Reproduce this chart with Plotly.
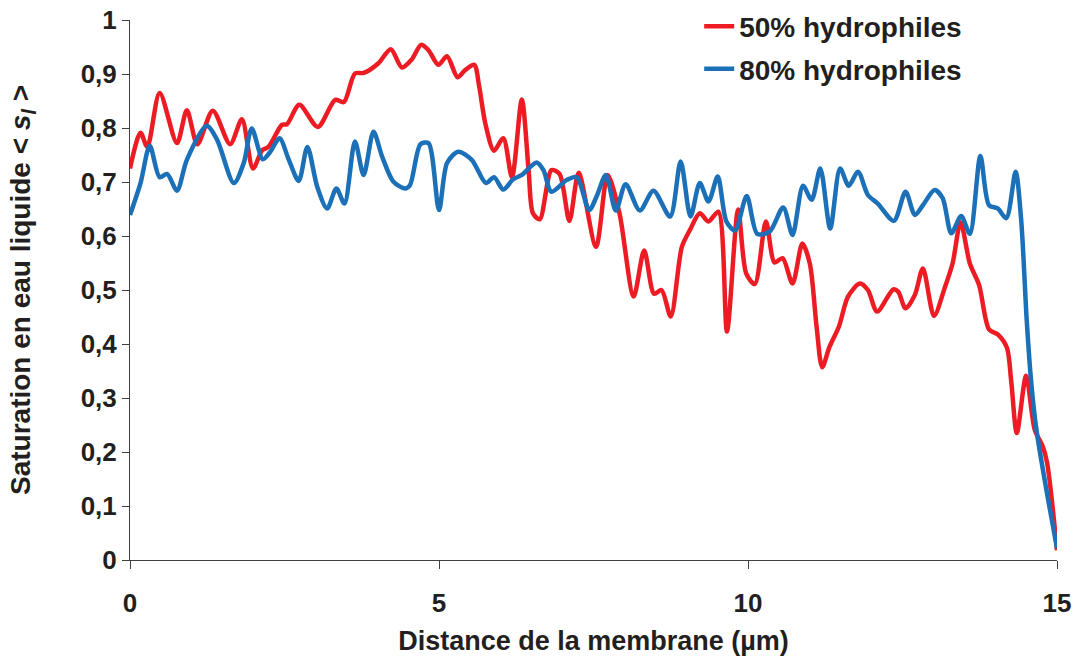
import plotly.graph_objects as go

# lecture des courbes sur la figure d'origine
x_50 = [0.00, 0.17, 0.28, 0.48, 0.76, 0.92, 1.09, 1.34, 1.62, 1.81, 1.99, 2.14, 2.24, 2.46, 2.54,
        2.74, 3.04, 3.32, 3.46, 3.64, 3.78, 4.02, 4.22, 4.40, 4.56, 4.71, 4.83, 4.99, 5.13, 5.30,
        5.42, 5.57, 5.65, 5.75, 5.89, 6.04, 6.18, 6.34, 6.45, 6.52, 6.63, 6.82, 6.95, 7.11, 7.26,
        7.54, 7.73, 7.92, 8.15, 8.32, 8.48, 8.60, 8.75, 8.93, 9.06, 9.22, 9.36, 9.52, 9.66, 9.84,
        9.97, 10.11, 10.29, 10.43, 10.56, 10.72, 10.88, 11.00, 11.11, 11.20, 11.32, 11.47, 11.62,
        11.81, 11.94, 12.09, 12.35, 12.43, 12.55, 12.70, 12.83, 13.01, 13.18, 13.31, 13.44, 13.59,
        13.74, 13.90, 14.05, 14.19, 14.26, 14.35, 14.50, 14.64, 14.77, 14.84, 15.00]
y_50 = [0.725, 0.791, 0.765, 0.865, 0.772, 0.833, 0.770, 0.832, 0.770, 0.816, 0.725, 0.759, 0.765,
        0.806, 0.807, 0.843, 0.802, 0.852, 0.848, 0.901, 0.902, 0.920, 0.946, 0.912, 0.927, 0.954,
        0.944, 0.917, 0.933, 0.894, 0.907, 0.917, 0.877, 0.808, 0.758, 0.781, 0.709, 0.853, 0.722,
        0.642, 0.631, 0.722, 0.715, 0.628, 0.717, 0.580, 0.713, 0.642, 0.488, 0.573, 0.493, 0.500,
        0.451, 0.580, 0.611, 0.642, 0.627, 0.645, 0.423, 0.649, 0.531, 0.511, 0.627, 0.551, 0.559,
        0.512, 0.586, 0.549, 0.432, 0.357, 0.395, 0.432, 0.488, 0.512, 0.500, 0.460, 0.501, 0.497,
        0.466, 0.491, 0.540, 0.452, 0.503, 0.549, 0.625, 0.549, 0.509, 0.427, 0.417, 0.393, 0.330,
        0.235, 0.341, 0.241, 0.210, 0.180, 0.018]

x_80 = [0.00, 0.17, 0.32, 0.48, 0.60, 0.76, 0.92, 1.24, 1.41, 1.68, 1.84, 1.97, 2.15, 2.27, 2.42,
        2.57, 2.73, 2.87, 3.03, 3.19, 3.34, 3.47, 3.64, 3.78, 3.94, 4.08, 4.26, 4.45, 4.53, 4.70,
        4.83, 5.00, 5.13, 5.31, 5.53, 5.76, 5.89, 6.04, 6.20, 6.34, 6.58, 6.69, 6.82, 7.07, 7.23,
        7.43, 7.55, 7.70, 7.86, 8.02, 8.25, 8.47, 8.74, 8.91, 9.07, 9.22, 9.36, 9.51, 9.65, 9.79,
        9.98, 10.15, 10.35, 10.57, 10.72, 10.89, 11.03, 11.17, 11.33, 11.49, 11.63, 11.78, 11.94,
        12.10, 12.36, 12.55, 12.70, 12.83, 13.02, 13.15, 13.29, 13.45, 13.59, 13.76, 13.90, 14.04,
        14.18, 14.33, 14.42, 14.51, 14.58, 14.66, 14.81, 15.00]
y_80 = [0.639, 0.698, 0.767, 0.709, 0.715, 0.684, 0.741, 0.804, 0.778, 0.698, 0.735, 0.799, 0.742,
        0.756, 0.781, 0.741, 0.702, 0.765, 0.691, 0.651, 0.688, 0.660, 0.775, 0.713, 0.793, 0.747,
        0.701, 0.688, 0.694, 0.770, 0.772, 0.648, 0.735, 0.756, 0.741, 0.698, 0.709, 0.686, 0.705,
        0.713, 0.736, 0.722, 0.682, 0.704, 0.709, 0.648, 0.673, 0.713, 0.647, 0.696, 0.647, 0.684,
        0.636, 0.738, 0.636, 0.698, 0.664, 0.710, 0.627, 0.610, 0.674, 0.604, 0.608, 0.653, 0.602,
        0.693, 0.667, 0.725, 0.614, 0.725, 0.693, 0.719, 0.676, 0.660, 0.628, 0.682, 0.639, 0.657,
        0.685, 0.670, 0.605, 0.637, 0.604, 0.748, 0.657, 0.651, 0.633, 0.719, 0.630, 0.444, 0.333,
        0.247, 0.142, 0.022]

y_ticks = [0, 0.1, 0.2, 0.3, 0.4, 0.5, 0.6, 0.7, 0.8, 0.9, 1]
y_labels = ["0", "0,1", "0,2", "0,3", "0,4", "0,5", "0,6", "0,7", "0,8", "0,9", "1"]

police = "Liberation Sans, Arial, sans-serif"
noir = "#231f20"

fig = go.Figure()
fig.add_trace(go.Scatter(x=x_50, y=y_50, mode="lines", name="50% hydrophiles",
                         legendgroup="a", cliponaxis=False,
                         line=dict(color="#ed1c24", width=4.5, shape="spline", smoothing=0.8)))
fig.add_trace(go.Scatter(x=x_80, y=y_80, mode="lines", name="80% hydrophiles",
                         legendgroup="b", cliponaxis=False,
                         line=dict(color="#1b70b8", width=4.5, shape="spline", smoothing=0.8)))

fig.update_layout(
    width=1076, height=662, autosize=False,
    margin=dict(l=130, r=19, t=20, b=102, autoexpand=False),
    paper_bgcolor="white", plot_bgcolor="white",
    font=dict(family=police, color=noir, size=26, weight="bold"),
    legend=dict(x=0.614, y=1.034, xanchor="left", yanchor="top",
                font=dict(size=28, weight="bold"), tracegroupgap=3,
                bgcolor="rgba(0,0,0,0)", itemwidth=30),
)
fig.update_xaxes(range=[0, 15], tickvals=[0, 5, 10, 15], ticktext=["0", "5", "10", "15"],
                 showline=True, linecolor="#404040", linewidth=1, ticks="outside",
                 ticklen=8, tickcolor="#404040", showgrid=False, zeroline=False,
                 tickfont=dict(size=26, weight="bold"), automargin=False,
                 ticklabelstandoff=12,
                 title=dict(text="Distance de la membrane (µm)", standoff=13,
                            font=dict(size=27, weight="bold")))
fig.update_yaxes(range=[0, 1], tickvals=y_ticks, ticktext=y_labels,
                 showline=True, linecolor="#404040", linewidth=1, ticks="outside",
                 ticklen=7, tickcolor="#404040", showgrid=False, zeroline=False,
                 tickfont=dict(size=26, weight="bold"), automargin=False,
                 title=dict(text="Saturation en eau liquide &lt; <i>s<sub>l</sub></i> &gt;",
                            standoff=41, font=dict(size=28, weight="bold")))

# la page ne doit pas avoir de marge autour du graphique
fig.write_html("out.html", config={"displayModeBar": False},
               post_script="document.body.style.margin = '0';")
